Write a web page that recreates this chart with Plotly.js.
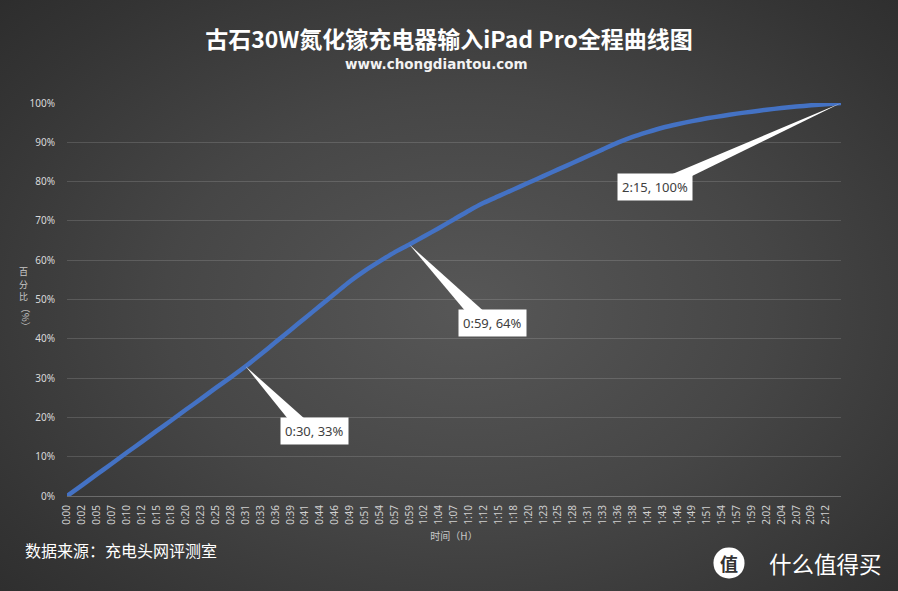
<!DOCTYPE html>
<html>
<head>
<meta charset="utf-8">
<script src="https://cdn.plot.ly/plotly-3.0.1.min.js"></script>
<style>
  html, body { margin: 0; padding: 0; }
  #chart {
    width: 898px; height: 591px;
    background: radial-gradient(ellipse 75% 80% at 52% 52%, #575757 0%, #464646 45%, #343434 80%, #2b2b2b 100%);
  }
  /* round badge behind the logo glyph */
  .annotation.logo-badge rect.bg { rx: 15px; ry: 15px; }
</style>
</head>
<body>
<div id="chart"></div>
<script>
// charging time (h:mm) and battery level (%)
const times = ['0:00','0:02','0:05','0:07','0:10','0:12','0:15','0:18','0:20','0:23','0:25','0:28','0:31',
  '0:33','0:36','0:39','0:41','0:44','0:46','0:49','0:51','0:54','0:57','0:59','1:02','1:04','1:07','1:10',
  '1:12','1:15','1:18','1:20','1:23','1:25','1:28','1:31','1:33','1:36','1:38','1:41','1:43','1:46','1:49',
  '1:51','1:54','1:57','1:59','2:02','2:04','2:07','2:09','2:12','2:15'];
const charge = [0, 2.7, 5.5, 8.2, 11, 13.7, 16.5, 19.2, 22, 24.7, 27.5, 30.2, 33,
  36, 39.1, 42.2, 45.3, 48.4, 51.5, 54.6, 57.3, 59.7, 62,
  64, 66.1, 68.2, 70.4, 72.6, 74.6, 76.3, 78, 79.7, 81.4,
  83.1, 84.8, 86.5, 88.2, 89.9, 91.4, 92.6, 93.7, 94.6, 95.4,
  96.1, 96.7, 97.3, 97.8, 98.3, 98.7, 99.1, 99.4, 99.7, 100];

// labelled points
const calloutIdx = [12, 23, 52];
const calloutText = ['0:30, 33%', '0:59, 64%', '2:15, 100%'];

// label box offset from the point (px) and wedge base (px, y up)
const boxShift = [[69, -65], [83, -79], [-186, -84]];
const wedgeBase = [[[45, -56], [63, -56]], [[58, -69], [77, -69]], [[-178, -75], [-153, -75]]];

const yTitleChars = ['百', '分', '比'];

const shapes = [];
const annotations = [];

calloutIdx.forEach(function (i, k) {
  const b = wedgeBase[k];
  shapes.push({
    type: 'path', xref: 'x', yref: 'y',
    xsizemode: 'pixel', ysizemode: 'pixel',
    xanchor: times[i], yanchor: charge[i],
    path: 'M0,0 L' + b[0][0] + ',' + b[0][1] + ' L' + b[1][0] + ',' + b[1][1] + ' Z',
    fillcolor: '#ffffff', line: { width: 0 }, layer: 'above'
  });
  annotations.push({
    x: times[i], y: charge[i], xref: 'x', yref: 'y',
    xshift: boxShift[k][0], yshift: boxShift[k][1],
    text: calloutText[k], showarrow: false,
    bgcolor: '#ffffff', borderpad: 4,
    font: { family: 'Noto Sans, sans-serif', size: 13, color: '#404040' }
  });
});

// stacked y-axis title
yTitleChars.forEach(function (c, k) {
  annotations.push({
    text: c, xref: 'paper', yref: 'paper', x: -0.065, y: 0.571, yanchor: 'middle',
    yshift: -12.5 * k, showarrow: false,
    font: { family: 'Noto Sans CJK SC', size: 9, color: '#c8c8c8' }
  });
});

annotations.push(
  { text: '（%）', textangle: 90, xref: 'paper', yref: 'paper', x: -0.065, y: 0.455, yanchor: 'middle',
    showarrow: false, font: { family: 'Noto Sans CJK SC', size: 9.5, color: '#c8c8c8' } },
  { text: '<b>www.chongdiantou.com</b>', xref: 'paper', yref: 'paper', x: 0.477, y: 1.1, yanchor: 'middle',
    showarrow: false, font: { family: 'DejaVu Sans, sans-serif', size: 13.5, color: '#f2f2f2' } },
  { text: '数据来源：充电头网评测室', xref: 'paper', yref: 'paper', x: -0.057, xanchor: 'left',
    y: -0.137, yanchor: 'middle', showarrow: false,
    font: { family: 'Noto Sans CJK SC', size: 16, color: '#ffffff' } },
  { text: '什么值得买', xref: 'paper', yref: 'paper', x: 0.904, xanchor: 'left', y: -0.1705, yanchor: 'middle',
    showarrow: false, font: { family: 'Noto Sans CJK SC', size: 22.5, color: '#ffffff' } },
  { text: '<b>值</b>', xref: 'paper', yref: 'paper', x: 0.8759, y: -0.1705, yanchor: 'middle',
    width: 30, height: 30, borderpad: 0, bgcolor: '#ffffff', showarrow: false,
    font: { family: 'Noto Sans CJK SC', size: 18, color: '#333333' } }
);
const badgeIndex = annotations.length - 1;

const trace = {
  x: times, y: charge, type: 'scatter', mode: 'lines',
  line: { color: '#4472C4', width: 4.5, shape: 'spline', smoothing: 0.6 },
  hoverinfo: 'x+y'
};

const layout = {
  width: 898, height: 591,
  margin: { l: 67, r: 57, t: 103, b: 95 },
  paper_bgcolor: 'rgba(0,0,0,0)',
  plot_bgcolor: 'rgba(0,0,0,0)',
  showlegend: false,
  title: {
    text: '<b>古石30W氮化镓充电器输入iPad Pro全程曲线图</b>',
    x: 0.5, xref: 'container', y: 0.932, yref: 'container', yanchor: 'middle',
    font: { family: 'Noto Sans CJK SC', size: 23, color: '#ffffff' }
  },
  xaxis: {
    type: 'category', range: [0, times.length - 1],
    tickvals: times.slice(0, times.length - 1),
    tickangle: -90, ticks: '', ticklabelstandoff: 4,
    tickfont: { family: 'Noto Sans, sans-serif', size: 10, color: '#d0d0d0' },
    showgrid: false, showline: true, linecolor: 'rgba(255,255,255,0.25)', linewidth: 1,
    title: { text: '时间（H）', standoff: 9, font: { family: 'Noto Sans CJK SC', size: 10, color: '#c8c8c8' } }
  },
  yaxis: {
    range: [0, 100], dtick: 10, ticksuffix: '%', ticks: '', ticklabelstandoff: 11,
    tickfont: { family: 'Noto Sans, sans-serif', size: 10, color: '#d9d9d9' },
    gridcolor: 'rgba(255,255,255,0.14)', gridwidth: 1, zeroline: false
  },
  shapes: shapes,
  annotations: annotations
};

function markBadge() {
  document.querySelectorAll('#chart .annotation').forEach(function (g) {
    if (g.getAttribute('data-index') === String(badgeIndex)) g.classList.add('logo-badge');
  });
}

Plotly.newPlot('chart', [trace], layout, { displayModeBar: false }).then(markBadge);
document.getElementById('chart').on('plotly_afterplot', markBadge);
</script>
</body>
</html>
